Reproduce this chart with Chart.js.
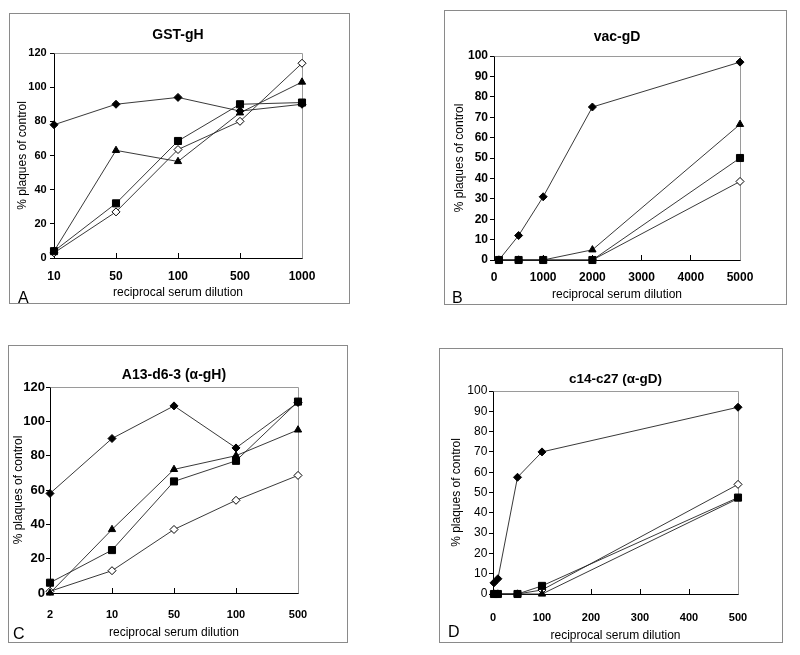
<!DOCTYPE html>
<html><head><meta charset="utf-8">
<script src="https://cdn.jsdelivr.net/npm/chart.js@4.4.1/dist/chart.umd.min.js"></script>
<style>
html,body{margin:0;padding:0;background:#fff;}
body{width:800px;height:655px;position:relative;overflow:hidden;}
.panel{position:absolute;}
</style></head><body>
<div class="panel" style="left:9px;top:13px;width:341px;height:291px"><canvas id="cA"></canvas></div>
<div class="panel" style="left:444px;top:10px;width:343px;height:295px"><canvas id="cB"></canvas></div>
<div class="panel" style="left:8px;top:345px;width:340px;height:298px"><canvas id="cC"></canvas></div>
<div class="panel" style="left:439px;top:348px;width:344px;height:295px"><canvas id="cD"></canvas></div>
<script>
// ---- Data ----
const catsA = ['10', '50', '100', '500', '1000'];
const A_filledDiamond = [78, 90, 94, 86, 90];
const A_triangle = [4, 63, 56.5, 85, 103];
const A_square = [4, 32, 68.5, 90, 91];
const A_openDiamond = [3, 27, 63.5, 80, 114];

const xB = [100, 500, 1000, 2000, 5000];
const B_filledDiamond = [0, 12, 31, 75, 97];
const B_triangle = [0, 0, 0, 5, 66.5];
const B_square = [0, 0, 0, 0, 50];
const B_openDiamond = [0, 0, 0, 0, 38.5];

const catsC = ['2', '10', '50', '100', '500'];
const C_filledDiamond = [58, 90, 109, 84.5, 111];
const C_triangle = [0, 37, 72, 80, 95];
const C_square = [6, 25, 65, 77, 111.5];
const C_openDiamond = [1, 13, 37, 54, 68.5];

const xD = [2, 10, 50, 100, 500];
const D_filledDiamond = [5.5, 7.5, 57.5, 70, 92];
const D_openDiamond = [0, 0, 0, 2, 54];
const D_square = [0, 0, 0, 4, 47.5];
const D_triangle = [0, 0, 0, 0, 47];

const titles = ['GST-gH', 'vac-gD', 'A13-d6-3 (\u03b1-gH)', 'c14-c27 (\u03b1-gD)'];
const letters = ['A', 'B', 'C', 'D'];
const xTitle = 'reciprocal serum dilution';
const yTitle = '% plaques of control';

// ---- Styling helpers ----
const FONT = '"Liberation Sans", Arial, Helvetica, sans-serif';
const styles = {
  filledDiamond: {pointStyle: 'rectRot', pointRadius: 4, pointBackgroundColor: '#000', pointBorderColor: '#000'},
  openDiamond: {pointStyle: 'rectRot', pointRadius: 4, pointBackgroundColor: '#fff', pointBorderColor: '#000'},
  square: {pointStyle: 'rect', pointRadius: 5, pointBackgroundColor: '#000', pointBorderColor: '#000'},
  triangle: {pointStyle: 'triangle', pointRadius: 4.2, pointBackgroundColor: '#000', pointBorderColor: '#000'}
};
function ds(values, style, xs) {
  const data = xs ? values.map((v, i) => ({x: xs[i], y: v})) : values;
  return Object.assign({data, borderColor: '#222', borderWidth: 0.9, tension: 0, clip: false,
    pointBorderWidth: 1, pointHoverRadius: 4}, styles[style]);
}

const framePlugin = {
  id: 'frameDeco',
  beforeDraw(chart, args, opts) {
    const {ctx, width, height} = chart;
    ctx.save();
    ctx.fillStyle = '#fff';
    ctx.fillRect(0, 0, width, height);
    ctx.strokeStyle = '#8a8a8a';
    ctx.lineWidth = 1;
    ctx.strokeRect(0.5, 0.5, width - 1, height - 1);
    ctx.restore();
  },
  beforeDatasetsDraw(chart) {
    const {ctx, chartArea: a} = chart;
    ctx.save();
    ctx.strokeStyle = '#9a9a9a';
    ctx.lineWidth = 1;
    ctx.beginPath();
    ctx.moveTo(Math.round(a.left) + 0.5, Math.round(a.top) + 0.5);
    ctx.lineTo(Math.round(a.right) + 0.5, Math.round(a.top) + 0.5);
    ctx.lineTo(Math.round(a.right) + 0.5, Math.round(a.bottom) + 0.5);
    ctx.stroke();
    ctx.restore();
  },
  afterDraw(chart, args, opts) {
    const {ctx} = chart;
    ctx.save();
    ctx.fillStyle = '#000';
    ctx.font = '16px ' + FONT;
    ctx.textBaseline = 'alphabetic';
    ctx.textAlign = 'left';
    ctx.fillText(opts.letter, opts.lx, opts.ly);
    ctx.restore();
  }
};

function makeChart(id, p) {
  const xScale = p.xType === 'category'
    ? {type: 'category', labels: p.labels, offset: false}
    : {type: 'linear', min: p.xMin, max: p.xMax, ticks: {stepSize: p.xStep, callback: (v) => String(v)}};
  Object.assign(xScale, {
    position: 'bottom',
    grid: {display: true, drawOnChartArea: false, offset: false, tickLength: -5, color: '#000', lineWidth: 1},
    border: {display: true, color: '#000', width: 1},
    afterFit(s) { s.height = p.Hx; },
    title: {display: true, text: xTitle, color: '#000', font: {family: FONT, size: 12}, padding: {top: 0, bottom: p.xTitlePadB}}
  });
  xScale.ticks = Object.assign(xScale.ticks || {}, {color: '#000', padding: p.xTickPad, maxRotation: 0, autoSkip: false,
    font: {family: FONT, size: p.xFont, weight: 'bold'}});
  return new Chart(document.getElementById(id), {
    type: 'line',
    data: {labels: p.xType === 'category' ? p.labels : undefined, datasets: p.datasets},
    options: {
      responsive: true, maintainAspectRatio: false, animation: false,
      layout: {padding: {left: 0, right: p.padR, top: 0, bottom: 0}},
      plugins: {
        legend: {display: false}, tooltip: {enabled: false},
        title: {display: true, fullSize: false, text: p.title, color: '#000', font: {family: FONT, size: p.titleFont, weight: 'bold'},
          padding: {top: p.titlePadT, bottom: p.titlePadB}},
        frameDeco: {letter: p.letter, lx: p.lx, ly: p.ly}
      },
      scales: {
        x: xScale,
        y: {
          type: 'linear', min: 0, max: p.yMax, position: 'left',
          ticks: {stepSize: p.yStep, color: '#000', padding: p.yTickPad,
            font: {family: FONT, size: p.yFont, weight: p.yBold ? 'bold' : 'normal'}},
          grid: {display: true, drawOnChartArea: false, tickLength: 4, color: '#000', lineWidth: 1},
          border: {display: true, color: '#000', width: 1},
          afterFit(s) { s.width = p.Wy; },
          title: {display: true, text: yTitle, color: '#000', font: {family: FONT, size: 12}, padding: {top: p.yTitlePadT, bottom: 0}}
        }
      }
    },
    plugins: [framePlugin]
  });
}

makeChart('cA', {
  xType: 'category', labels: catsA,
  datasets: [ds(A_square, 'square'), ds(A_filledDiamond, 'filledDiamond'), ds(A_triangle, 'triangle'), ds(A_openDiamond, 'openDiamond')],
  title: titles[0], titleFont: 14, titlePadT: 13.6, titlePadB: 9.6,
  padR: 48, Wy: 45, Hx: 46,
  yMax: 120, yStep: 20, yFont: 11, yBold: true, yTickPad: 3.3, yTitlePadT: 6.5,
  xFont: 12, xTickPad: 16, xTitlePadB: 3.8,
  letter: letters[0], lx: 9, ly: 290
});
makeChart('cB', {
  xType: 'linear', xMin: 0, xMax: 5000, xStep: 1000,
  datasets: [ds(B_square, 'square', xB), ds(B_filledDiamond, 'filledDiamond', xB), ds(B_triangle, 'triangle', xB), ds(B_openDiamond, 'openDiamond', xB)],
  title: titles[1], titleFont: 14, titlePadT: 18.6, titlePadB: 10.6,
  padR: 47, Wy: 50, Hx: 45,
  yMax: 100, yStep: 10, yFont: 12, yBold: true, yTickPad: 2, yTitlePadT: 8.8,
  xFont: 12, xTickPad: 15, xTitlePadB: 2.8,
  letter: letters[1], lx: 8, ly: 293
});
makeChart('cC', {
  xType: 'category', labels: catsC,
  datasets: [ds(C_square, 'square'), ds(C_filledDiamond, 'filledDiamond'), ds(C_triangle, 'triangle'), ds(C_openDiamond, 'openDiamond')],
  title: titles[2], titleFont: 14, titlePadT: 21.6, titlePadB: 3.6,
  padR: 50, Wy: 42, Hx: 50,
  yMax: 120, yStep: 20, yFont: 13, yBold: true, yTickPad: 1, yTitlePadT: 3.1,
  xFont: 11, xTickPad: 20.5, xTitlePadB: 2.8,
  letter: letters[2], lx: 5, ly: 294
});
makeChart('cD', {
  xType: 'linear', xMin: 0, xMax: 500, xStep: 100,
  datasets: [ds(D_square, 'square', xD), ds(D_filledDiamond, 'filledDiamond', xD), ds(D_triangle, 'triangle', xD), ds(D_openDiamond, 'openDiamond', xD)],
  title: titles[3], titleFont: 13.5, titlePadT: 22.9, titlePadB: 3.9,
  padR: 45, Wy: 54, Hx: 49,
  yMax: 100, yStep: 10, yFont: 12, yBold: false, yTickPad: 1.7, yTitlePadT: 10.5,
  xFont: 11, xTickPad: 22.5, xTitlePadB: 0,
  letter: letters[3], lx: 9, ly: 289
});
</script>
</body></html>
